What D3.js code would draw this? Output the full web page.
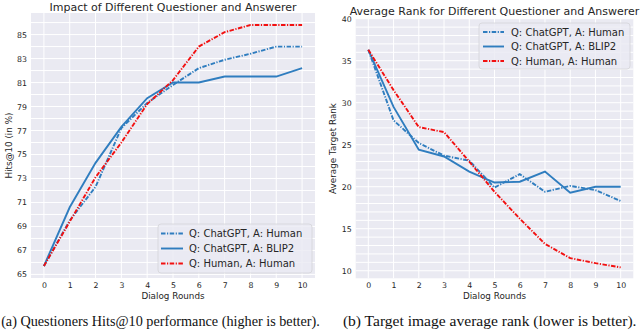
<!DOCTYPE html>
<html><head><meta charset="utf-8">
<script src="https://cdn.jsdelivr.net/npm/d3@7"></script>
<style>body{margin:0;background:#fff}svg{display:block}</style>
</head><body>
<svg id="c" width="640" height="330"></svg>
<script>
const rounds = [0,1,2,3,4,5,6,7,8,9,10];
const seriesNames = ["Q: ChatGPT, A: Human","Q: ChatGPT, A: BLIP2","Q: Human, A: Human"];
// Left: Hits@10 (%)
const hitsChatHuman = [65.7,69.5,72.3,77.2,79.3,80.8,82.2,82.9,83.4,84.0,84.0];
const hitsChatBlip  = [65.7,70.6,74.3,77.3,79.7,81.0,81.0,81.5,81.5,81.5,82.2];
const hitsHumanHuman= [65.7,69.4,73.1,76.0,79.2,81.2,84.0,85.2,85.8,85.8,85.8];
// Right: average rank
const rankChatHuman = [36.3,27.9,25.2,23.7,23.1,19.9,21.5,19.4,20.1,19.6,18.3];
const rankChatBlip  = [36.3,29.5,24.4,23.6,21.8,20.5,20.6,21.8,19.3,20.0,20.0];
const rankHumanHuman= [36.3,31.5,27.1,26.5,23.0,19.4,16.2,13.2,11.5,10.9,10.4];
const hitsTicks = [65,67,69,71,73,75,77,79,81,83,85];
const rankTicks = [10,15,20,25,30,35,40];
const titles = ["Impact of Different Questioner and Answerer","Average Rank for Different Questioner and Answerer"];
const yLabels = ["Hits@10 (in %)","Average Target Rank"];
const xLabel = "Dialog Rounds";
const captions = ["(a) Questioners Hits@10 performance (higher is better).","(b) Target image average rank (lower is better)."];

const BLUE = "#2f7dbf", RED = "#f21010";
const styles = [
  {color:BLUE, dash:"4.5,1.5,1.2,1.5"},
  {color:BLUE, dash:null},
  {color:RED, dash:"4.5,1.5,1.2,1.5"}
];
const svg = d3.select("#c");
const FONT = "DejaVu Sans, sans-serif";

function panel(cfg){
  const g = svg.append("g");
  const x = d3.scaleLinear().domain([-0.5,10.5]).range([cfg.x0,cfg.x1]);
  const y = d3.scaleLinear().domain(cfg.ydom).range([cfg.y1,cfg.y0]);
  g.append("rect").attr("x",cfg.x0).attr("y",cfg.y0).attr("width",cfg.x1-cfg.x0).attr("height",cfg.y1-cfg.y0).attr("fill","#eaeaf2");
  const minor = d3.range(Math.ceil(cfg.ydom[0]), Math.floor(cfg.ydom[1])+1);
  g.selectAll(".hg").data(minor).join("line")
    .attr("x1",cfg.x0).attr("x2",cfg.x1).attr("y1",d=>y(d)).attr("y2",d=>y(d))
    .attr("stroke","#fff").attr("stroke-width",1);
  g.selectAll(".vg").data(rounds).join("line")
    .attr("y1",cfg.y0).attr("y2",cfg.y1).attr("x1",d=>x(d)).attr("x2",d=>x(d))
    .attr("stroke","#fff").attr("stroke-width",1);
  const xa = g.append("g").attr("transform",`translate(0,${cfg.y1})`)
    .call(d3.axisBottom(x).tickValues(rounds).tickSize(0).tickPadding(4).tickFormat(d3.format("d")));
  const ya = g.append("g").attr("transform",`translate(${cfg.x0},0)`)
    .call(d3.axisLeft(y).tickValues(cfg.ticks).tickSize(0).tickPadding(4).tickFormat(d3.format("d")));
  [xa,ya].forEach(a=>{a.select(".domain").remove();
    a.selectAll("text").attr("font-family",FONT).attr("font-size",7.8).attr("fill","#262626");});
  const line = d3.line().x((d,i)=>x(rounds[i])).y(d=>y(d));
  cfg.data.forEach((s,i)=>{
    g.append("path").datum(s).attr("d",line).attr("fill","none")
      .attr("stroke",styles[i].color).attr("stroke-width",1.9)
      .attr("stroke-dasharray",styles[i].dash);
  });
  g.append("text").attr("x",(cfg.x0+cfg.x1)/2).attr("y",cfg.titleY).attr("text-anchor","middle")
    .attr("font-family",FONT).attr("font-size",11).attr("fill","#262626").text(cfg.title);
  g.append("text").attr("x",(cfg.x0+cfg.x1)/2).attr("y",299).attr("text-anchor","middle")
    .attr("font-family",FONT).attr("font-size",8.8).attr("fill","#262626").text(xLabel);
  g.append("text").attr("transform",`translate(${cfg.ylabX},${(cfg.y0+cfg.y1)/2}) rotate(-90)`)
    .attr("text-anchor","middle").attr("font-family",FONT).attr("font-size",8.8).attr("fill","#262626").text(cfg.ylabel);
  const L = cfg.leg;
  g.append("rect").attr("x",L.x).attr("y",L.y).attr("width",L.w).attr("height",L.h).attr("rx",3)
    .attr("fill","#eaeaf2").attr("fill-opacity",0.8).attr("stroke","#d4d4d8").attr("stroke-width",0.8);
  seriesNames.forEach((n,i)=>{
    const yy = L.y + L.r0 + i*L.dy;
    g.append("line").attr("x1",L.x+L.hx0).attr("x2",L.x+L.hx1).attr("y1",yy).attr("y2",yy)
      .attr("stroke",styles[i].color).attr("stroke-width",1.9).attr("stroke-dasharray",styles[i].dash);
    g.append("text").attr("x",L.x+L.tx).attr("y",yy).attr("dy","0.35em")
      .attr("font-family",FONT).attr("font-size",10).attr("fill","#262626").text(n);
  });
  const cap = g.append("text").attr("x",cfg.capX).attr("y",326).attr("text-anchor","middle")
    .attr("font-family","Liberation Serif, Times New Roman, serif").attr("font-size",13).attr("fill","#111").text(cfg.caption);
  const w = cap.node().getComputedTextLength();
  cap.attr("font-size", 13*cfg.capW/w);
}

panel({x0:31,x1:315,y0:13,y1:278,ydom:[64.7,86.8],ticks:hitsTicks,
  data:[hitsChatHuman,hitsChatBlip,hitsHumanHuman],title:titles[0],titleY:10.5,ylabel:yLabels[0],ylabX:12,
  leg:{x:158,y:224,w:154,h:49,r0:9.5,dy:15,hx0:3,hx1:25,tx:31},caption:captions[0],capX:160.5,capW:319});
panel({x0:355.7,x1:633.3,y0:18.7,y1:278.3,ydom:[9.1,40],ticks:rankTicks,
  data:[rankChatHuman,rankChatBlip,rankHumanHuman],title:titles[1],titleY:15,ylabel:yLabels[1],ylabX:336,
  leg:{x:479,y:23,w:151,h:46,r0:9,dy:14.5,hx0:4,hx1:25,tx:32},caption:captions[1],capX:489.7,capW:294});
</script>
</body></html>
